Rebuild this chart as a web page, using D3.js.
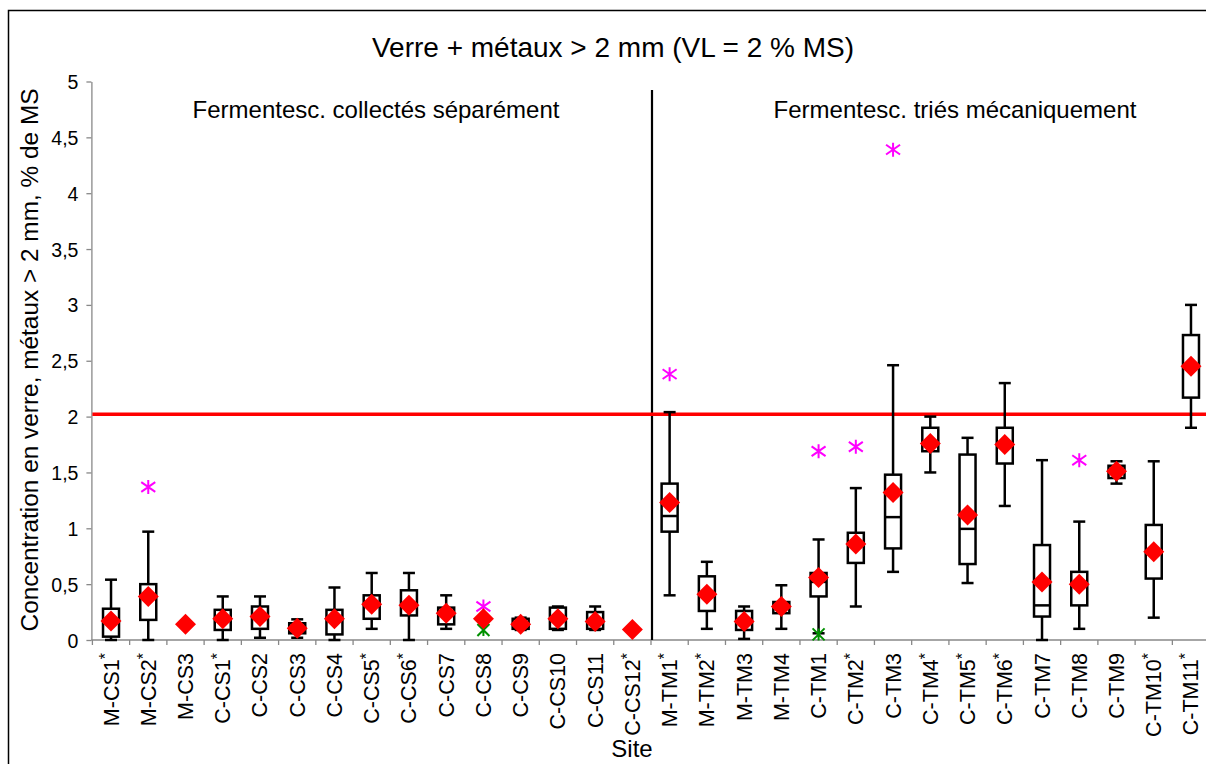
<!DOCTYPE html>
<html><head><meta charset="utf-8">
<script src="https://cdn.jsdelivr.net/npm/d3@7"></script>
<style>
body{margin:0;background:#fff}
svg{display:block}
text{font-family:Arial,"Liberation Sans",sans-serif;fill:#000}
</style>
</head><body>
<svg id="c" width="1206" height="764"></svg>
<script>
const categories = ["M-CS1*","M-CS2*","M-CS3","C-CS1*","C-CS2","C-CS3","C-CS4","C-CS5*","C-CS6*","C-CS7","C-CS8","C-CS9","C-CS10","C-CS11","C-CS12*",
  "M-TM1*","M-TM2*","M-TM3","M-TM4","C-TM1","C-TM2*","C-TM3","C-TM4*","C-TM5*","C-TM6*","C-TM7","C-TM8","C-TM9","C-TM10*","C-TM11*"];
const whiskerLow  = [0.00,0.00,null,0.00,0.02,0.02,0.00,0.10,0.00,0.10,null,0.09,0.09,0.09,null, 0.40,0.10,0.01,0.10,0.06,0.30,0.61,1.50,0.51,1.20,0.00,0.10,1.40,0.20,1.90];
const boxLow      = [0.03,0.18,null,0.09,0.10,0.06,0.05,0.19,0.22,0.14,null,0.10,0.10,0.10,null, 0.97,0.26,0.09,0.24,0.39,0.69,0.82,1.69,0.68,1.58,0.21,0.31,1.45,0.55,2.17];
const medians     = [0.17,0.40,null,0.18,0.20,0.10,0.18,0.30,0.30,0.24,null,0.14,0.19,0.16,null, 1.11,0.41,0.16,0.30,0.52,0.86,1.10,1.77,0.995,1.75,0.31,0.50,1.51,0.79,2.45];
const boxHigh     = [0.28,0.50,null,0.27,0.30,0.15,0.27,0.40,0.445,0.29,null,0.19,0.29,0.25,null, 1.40,0.57,0.26,0.34,0.60,0.96,1.48,1.90,1.66,1.90,0.85,0.61,1.56,1.03,2.73];
const whiskerHigh = [0.54,0.97,null,0.39,0.39,0.185,0.47,0.60,0.60,0.40,null,0.20,0.30,0.30,null, 2.04,0.70,0.30,0.49,0.90,1.36,2.46,2.00,1.81,2.30,1.61,1.06,1.60,1.60,3.00];
const means       = [0.17,0.39,0.14,0.19,0.21,0.105,0.19,0.32,0.31,0.24,0.19,0.14,0.19,0.165,0.095, 1.23,0.41,0.165,0.30,0.56,0.86,1.32,1.76,1.12,1.75,0.52,0.50,1.51,0.79,2.45];
const highOutliers= [null,1.37,null,null,null,null,null,null,null,null,0.30,null,null,null,null, 2.38,null,null,null,1.69,1.73,4.39,null,null,null,null,1.61,null,null,null];
const lowOutliers = [null,null,null,null,null,null,null,null,null,null,0.09,null,null,null,null, null,null,null,null,0.05,null,null,null,null,null,null,null,null,null,null];
const yTicks = [0,0.5,1,1.5,2,2.5,3,3.5,4,4.5,5];
const yTickLabels = ["0","0,5","1","1,5","2","2,5","3","3,5","4","4,5","5"];
const limitValue = 2.02;
const groupLabels = ["Fermentesc. collectés séparément","Fermentesc. triés mécaniquement"];
const titleText = "Verre + métaux > 2 mm (VL = 2 % MS)";
const yLabel = "Concentration en verre, métaux > 2 mm, % de MS";
const xLabel = "Site";

const svg = d3.select("#c");
const pLeft = 92.4, pRight = 1209.6, pTop = 81.5, pBottom = 640;
const x = d3.scaleBand().domain(categories).range([pLeft, pRight]).padding(0);
const y = d3.scaleLinear().domain([0,5]).range([pBottom, pTop]);
const bw = x.bandwidth();
const cx = c => x(c) + bw/2;

// outer frame
svg.append("rect").attr("x",8.5).attr("y",10.5).attr("width",1300).attr("height",900)
  .attr("fill","none").attr("stroke","#000").attr("stroke-width",1.5);

// title
svg.append("text").attr("x",613).attr("y",57).attr("text-anchor","middle")
  .style("font-size","28px").text(titleText);

// y axis
const yAxis = d3.axisLeft(y).tickValues(yTicks).tickFormat((d,i)=>yTickLabels[i]).tickSize(5).tickSizeOuter(0);
const gy = svg.append("g").attr("transform",`translate(${pLeft-1},0)`).call(yAxis);
gy.select(".domain").attr("stroke","#888").attr("stroke-width",1.3);
gy.selectAll(".tick line").attr("stroke","#888").attr("stroke-width",1.3);
gy.selectAll(".tick text").attr("x",-13).attr("dy","0.36em").style("font-size","19.5px").style("font-family","Arial, 'Liberation Sans', sans-serif").attr("fill","#000");

// x axis line + boundary ticks
svg.append("line").attr("x1",pLeft-1).attr("x2",1206).attr("y1",pBottom).attr("y2",pBottom)
  .attr("stroke","#888").attr("stroke-width",1.3);
svg.append("g").selectAll("line").data(categories).join("line")
  .attr("x1",d=>x(d)).attr("x2",d=>x(d)).attr("y1",pBottom).attr("y2",pBottom+5)
  .attr("stroke","#888").attr("stroke-width",1.3);

// x labels
const xl = svg.append("g").selectAll("text").data(categories).join("text")
  .attr("transform",d=>`translate(${cx(d)+7.5},653) rotate(-90)`)
  .attr("text-anchor","end").style("font-size","21.5px");
xl.each(function(d){
  const t = d3.select(this);
  const star = d.endsWith("*");
  t.append("tspan").text(star ? d.slice(0,-1) : d);
  if (star) t.append("tspan").attr("dy","-0.45em").style("font-size","16px").text("*");
});

svg.append("text").attr("x",632).attr("y",757).attr("text-anchor","middle").style("font-size","24px").text(xLabel);
svg.append("text").attr("transform","translate(38,360) rotate(-90)").attr("text-anchor","middle")
  .style("font-size","24.4px").text(yLabel);

// group labels
svg.append("text").attr("x",376).attr("y",118).attr("text-anchor","middle").style("font-size","24px").text(groupLabels[0]);
svg.append("text").attr("x",955).attr("y",118).attr("text-anchor","middle").style("font-size","24px").text(groupLabels[1]);

// divider
svg.append("line").attr("x1",x(categories[15])+1).attr("x2",x(categories[15])+1).attr("y1",90).attr("y2",pBottom)
  .attr("stroke","#000").attr("stroke-width",2.2);

// limit line
svg.append("line").attr("x1",pLeft).attr("x2",1206).attr("y1",y(limitValue)).attr("y2",y(limitValue))
  .attr("stroke","#ff0000").attr("stroke-width",3.5);

// boxplots
const g = svg.append("g");
const L = (x1,y1,x2,y2)=>g.append("line").attr("x1",x1).attr("y1",y1).attr("x2",x2).attr("y2",y2).attr("stroke","#000").attr("stroke-width",2.5);
categories.forEach((c,i)=>{
  const X = cx(c);
  if (boxLow[i]!=null){
    L(X,y(boxHigh[i]),X,y(whiskerHigh[i]));
    L(X,y(boxLow[i]),X,y(whiskerLow[i]));
    L(X-6,y(whiskerHigh[i]),X+6,y(whiskerHigh[i]));
    L(X-6,y(whiskerLow[i]),X+6,y(whiskerLow[i]));
    g.append("rect").attr("x",X-8).attr("width",16).attr("y",y(boxHigh[i]))
      .attr("height",y(boxLow[i])-y(boxHigh[i])).attr("fill","#fff").attr("stroke","#000").attr("stroke-width",2.5);
    L(X-8,y(medians[i]),X+8,y(medians[i]));
  }
});
// outliers
categories.forEach((c,i)=>{
  const X = cx(c);
  if (highOutliers[i]!=null){
    const Y = y(highOutliers[i]), s=7;
    const p = `M${X},${Y-s}L${X},${Y+s}M${X-s},${Y-s*0.7}L${X+s},${Y+s*0.7}M${X-s},${Y+s*0.7}L${X+s},${Y-s*0.7}`;
    g.append("path").attr("d",p).attr("stroke","#ff00ff").attr("stroke-width",2).attr("fill","none");
  }
  if (lowOutliers[i]!=null){
    const Y = y(lowOutliers[i]), s=6;
    const p = `M${X-s},${Y-s}L${X+s},${Y+s}M${X-s},${Y+s}L${X+s},${Y-s}M${X},${Y-s}L${X},${Y+s}`;
    g.append("path").attr("d",p).attr("stroke","#009000").attr("stroke-width",2).attr("fill","none");
  }
});
// means
categories.forEach((c,i)=>{
  const X = cx(c), Y = y(means[i]), s=10.5;
  g.append("path").attr("d",`M${X},${Y-s}L${X+s},${Y}L${X},${Y+s}L${X-s},${Y}Z`).attr("fill","#ff0000");
});
</script>
</body></html>
